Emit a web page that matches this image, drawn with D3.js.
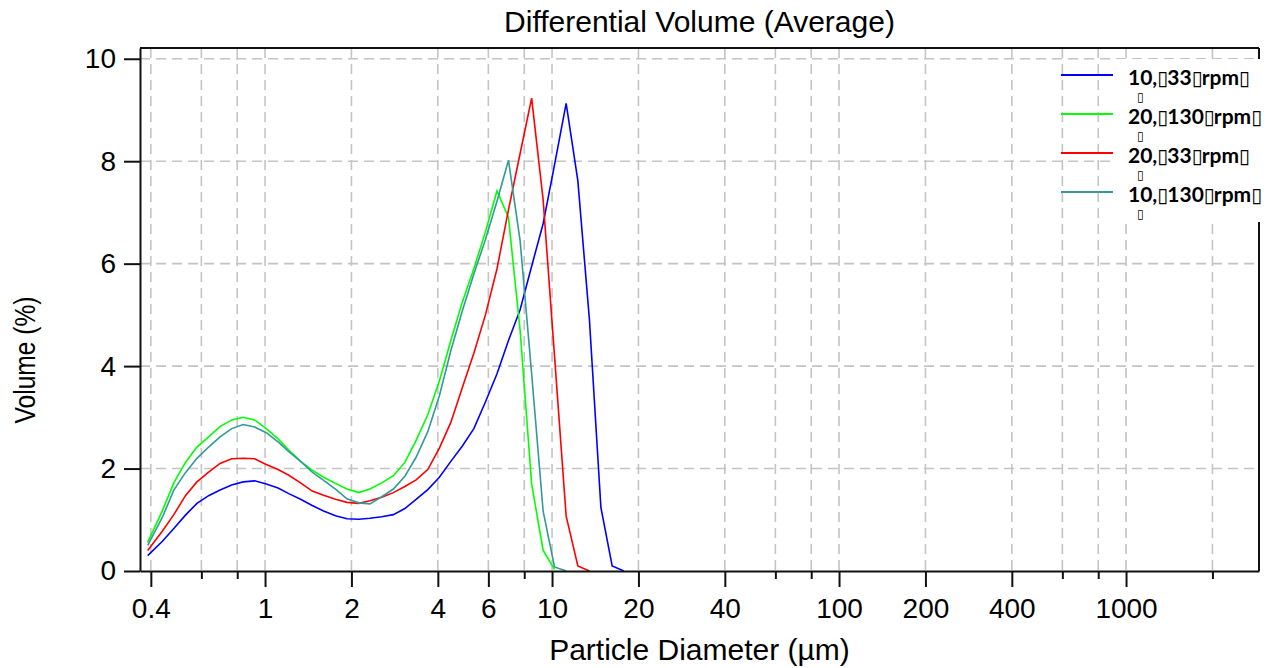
<!DOCTYPE html>
<html><head><meta charset="utf-8">
<script src="https://cdn.jsdelivr.net/npm/d3@7"></script>
<style>body{margin:0;background:#fff}svg{display:block}</style>
</head><body>
<svg id="chart" width="1275" height="668"></svg>
<script>
// Particle diameter channels (µm)
const sizes = [0.39, 0.439, 0.481, 0.528, 0.579, 0.636, 0.697, 0.765, 0.839, 0.920,
  1.01, 1.11, 1.21, 1.33, 1.46, 1.60, 1.76, 1.93, 2.12, 2.32,
  2.55, 2.80, 3.07, 3.36, 3.69, 4.05, 4.44, 4.87, 5.34, 5.86,
  6.43, 7.05, 7.74, 8.49, 9.31, 10.2, 11.2, 12.3, 13.5, 14.8,
  16.2, 17.8];

// Volume (%) per channel
const blue10_33 = [0.30, 0.58, 0.83, 1.09, 1.32, 1.47, 1.58, 1.68, 1.74, 1.76,
  1.70, 1.62, 1.51, 1.40, 1.28, 1.17, 1.08, 1.02, 1.01, 1.03,
  1.06, 1.10, 1.22, 1.40, 1.59, 1.83, 2.14, 2.44, 2.78, 3.30,
  3.85, 4.50, 5.10, 5.95, 6.78, 7.93, 9.13, 7.62, 4.90, 1.24,
  0.10, 0.00];
const green20_130 = [0.56, 1.18, 1.72, 2.12, 2.42, 2.62, 2.82, 2.95, 3.00, 2.95,
  2.78, 2.58, 2.36, 2.14, 1.97, 1.83, 1.71, 1.60, 1.53, 1.60,
  1.72, 1.86, 2.12, 2.55, 3.05, 3.71, 4.50, 5.25, 5.90, 6.62,
  7.42, 6.90, 4.70, 1.70, 0.40, 0.03, null, null, null, null,
  null, null];
const red20_33 = [0.40, 0.78, 1.10, 1.47, 1.74, 1.93, 2.10, 2.19, 2.20, 2.19,
  2.08, 1.98, 1.87, 1.72, 1.56, 1.48, 1.40, 1.34, 1.32, 1.37,
  1.44, 1.53, 1.65, 1.78, 1.98, 2.40, 2.90, 3.58, 4.25, 5.00,
  5.90, 7.05, 8.15, 9.23, 7.25, 4.20, 1.07, 0.10, 0.00, null,
  null, null];
const teal10_130 = [0.50, 1.05, 1.58, 1.92, 2.20, 2.42, 2.62, 2.78, 2.86, 2.81,
  2.70, 2.52, 2.33, 2.14, 1.93, 1.77, 1.60, 1.41, 1.33, 1.31,
  1.45, 1.60, 1.85, 2.22, 2.72, 3.42, 4.30, 5.08, 5.80, 6.47,
  7.22, 8.02, 6.45, 3.85, 1.17, 0.08, 0.00, null, null, null,
  null, null];

const seriesNames = ["10,\u25AF33\u25AFrpm\u25AF", "20,\u25AF130\u25AFrpm\u25AF", "20,\u25AF33\u25AFrpm\u25AF", "10,\u25AF130\u25AFrpm\u25AF"];
const seriesColors = ["#0000ff", "#00ff00", "#ff0000", "#339999"];
const seriesValues = [blue10_33, green20_130, red20_33, teal10_130];

const xTickValues = [0.4, 0.6, 0.8, 1, 2, 4, 6, 8, 10, 20, 40, 60, 80, 100, 200, 400, 600, 800, 1000, 2000];
const xTickLabels = ["0.4", "", "", "1", "2", "4", "6", "", "10", "20", "40", "", "", "100", "200", "400", "", "", "1000", ""];
const yTickValues = [0, 2, 4, 6, 8, 10];

const titleText = "Differential Volume (Average)";
const xTitle = "Particle Diameter (\u00B5m)";
const yTitle = "Volume (%)";

const svg = d3.select("#chart");
const L = 140, R = 1259, T = 48, B = 571;
const x = d3.scaleLog().domain([0.3667, 2906]).range([L, R]);
const y = d3.scaleLinear().domain([0, 10.21]).range([B, T]);
const font = "'Liberation Sans', Arial, sans-serif";

// gridlines
const grid = svg.append("g").attr("stroke", "#c4c4c4").attr("stroke-width", 1.6).attr("stroke-dasharray", "10,6");
grid.selectAll("line.v").data(xTickValues).join("line")
  .attr("x1", d => x(d)).attr("x2", d => x(d)).attr("y1", T).attr("y2", B);
grid.selectAll("line.h").data(yTickValues.filter(v => v > 0)).join("line")
  .attr("x1", L).attr("x2", R).attr("y1", d => y(d)).attr("y2", d => y(d));

// curves
const line = d3.line().x(d => x(d[0])).y(d => y(d[1]));
seriesValues.forEach((vals, k) => {
  const pts = vals.map((v, i) => [sizes[i], v]).filter(p => p[1] != null);
  svg.append("path").datum(pts).attr("d", line)
    .attr("fill", "none").attr("stroke", seriesColors[k]).attr("stroke-width", 1.6);
});

// frame top/right
svg.append("line").attr("x1", L).attr("x2", R).attr("y1", T).attr("y2", T).attr("stroke", "#111").attr("stroke-width", 2);
svg.append("line").attr("x1", R).attr("x2", R).attr("y1", T).attr("y2", B).attr("stroke", "#111").attr("stroke-width", 2);

// axes
const xAxis = d3.axisBottom(x).tickValues(xTickValues).tickSize(16).tickSizeOuter(0).tickPadding(11)
  .tickFormat((d, i) => xTickLabels[i]);
const gx = svg.append("g").attr("transform", `translate(0,${B})`).call(xAxis);
gx.selectAll(".tick line").attr("y2", (d, i) => xTickLabels[i] ? 16 : 8);
const yAxis = d3.axisLeft(y).tickValues(yTickValues).tickSize(16).tickSizeOuter(0).tickPadding(8).tickFormat(d3.format("d"));
const gy = svg.append("g").attr("transform", `translate(${L},0)`).call(yAxis);
[gx, gy].forEach(g => {
  g.select(".domain").attr("stroke", "#111").attr("stroke-width", 2);
  g.selectAll(".tick line").attr("stroke", "#111").attr("stroke-width", 2);
  g.selectAll(".tick text").attr("font-family", font).attr("font-size", 28).attr("fill", "#000");
});

// titles
svg.append("text").attr("x", (L + R) / 2).attr("y", 32).attr("text-anchor", "middle")
  .attr("font-family", font).attr("font-size", 30).text(titleText);
svg.append("text").attr("x", (L + R) / 2).attr("y", 660).attr("text-anchor", "middle")
  .attr("font-family", font).attr("font-size", 30).text(xTitle);
svg.append("text").attr("transform", "translate(35,360) rotate(-90) scale(0.82,1)").attr("text-anchor", "middle")
  .attr("font-family", font).attr("font-size", 30).text(yTitle);

// legend
svg.append("rect").attr("x", 1116).attr("y", 59).attr("width", 160).attr("height", 163).attr("fill", "#fff");
const lg = svg.append("g");
seriesNames.forEach((name, k) => {
  const yy = 75 + k * 39;
  lg.append("line").attr("x1", 1061).attr("x2", 1113).attr("y1", yy).attr("y2", yy)
    .attr("stroke", seriesColors[k]).attr("stroke-width", 2);
  const t = lg.append("text").attr("font-family", "Lato, 'Open Sans', sans-serif").attr("font-weight", "bold")
    .attr("font-size", 21).attr("fill", "#000").attr("x", 1128).attr("y", yy + 10);
  const parts = name.split("\u25AF");
  parts.forEach((p, j) => {
    if (p) t.append("tspan").attr("dx", j > 0 ? -1 : 0).text(p);
    if (j < parts.length - 1) t.append("tspan").attr("font-family", "'DejaVu Sans'").attr("font-size", 20).text("\u25AF");
  });
  lg.append("text").attr("font-family", "'DejaVu Sans'").attr("font-weight", "bold").attr("font-size", 12)
    .attr("x", 1137).attr("y", yy + 26).attr("fill", "#000").text("\u25AF");
});
</script>
</body></html>
